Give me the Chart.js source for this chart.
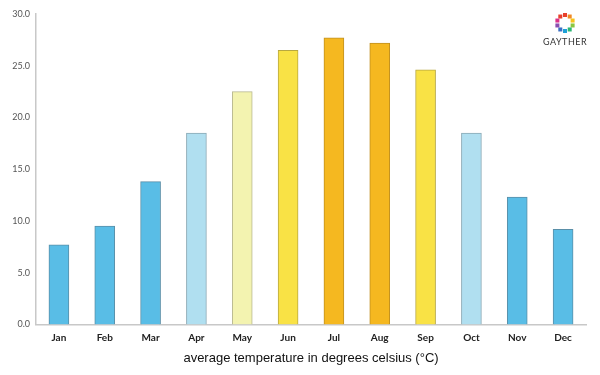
<!DOCTYPE html>
<html><head><meta charset="utf-8">
<script src="https://cdn.jsdelivr.net/npm/chart.js@4/dist/chart.umd.min.js"></script>
<style>
html,body{margin:0;padding:0;background:#fff;}
#wrap{position:relative;width:600px;height:375px;}
#logoText{position:absolute;left:543px;top:36px;font:9px "Lato",sans-serif;letter-spacing:0.5px;color:#333;}
</style></head>
<body>
<div id="wrap"><canvas id="c" width="600" height="375"></canvas><div id="logoText">GAYTHER</div></div>
<script>
const months = ["Jan","Feb","Mar","Apr","May","Jun","Jul","Aug","Sep","Oct","Nov","Dec"];
const temps = [7.7, 9.5, 13.8, 18.5, 22.5, 26.5, 27.7, 27.2, 24.6, 18.5, 12.3, 9.2];
const barColors = ["#59bde6","#59bde6","#59bde6","#b0dff0","#f3f3b0","#f9e245","#f5b820","#f5b820","#f9e245","#b0dff0","#59bde6","#59bde6"];
const borderColors = ["#5a8fa8","#5a8fa8","#5a8fa8","#8aa9b5","#b8b890","#b8a840","#c09020","#c09020","#b8a840","#8aa9b5","#5a8fa8","#5a8fa8"];
const axisTitle = "average temperature in degrees celsius (°C)";

const logoPlugin = {
  id:'logo',
  afterDraw(chart){
    const ctx = chart.ctx;
    const cx = 565, cy = 23, r = 8;
    const cols = ["#e8412c","#f08a24","#f6c21c","#8cc63f","#2bb673","#1ea0d6","#3a6fc4","#8a4fb0","#d9328a","#e8412c"];
    for(let i=0;i<10;i++){
      const a = i/10*Math.PI*2 - Math.PI/2;
      ctx.fillStyle = cols[i];
      const x = cx + r*Math.cos(a), y = cy + r*Math.sin(a);
      ctx.fillRect(x-2,y-2,4,4);
    }
  }
};

new Chart(document.getElementById('c'), {
  type:'bar',
  data:{labels:months, datasets:[{data:temps, backgroundColor:barColors, borderColor:borderColors, borderWidth:1, barThickness:20}]},
  options:{
    responsive:false, animation:false,
    layout:{padding:{top:14,right:14,left:0,bottom:9}},
    plugins:{legend:{display:false}, tooltip:{enabled:false}},
    scales:{
      x:{
        grid:{display:false, drawTicks:false},
        border:{color:'#c8c8c8', width:1.5},
        ticks:{color:'#222', font:{family:'Lato', size:10, weight:'bold'}, padding:7},
        title:{display:true, text:axisTitle, color:'#111', font:{family:'"Liberation Sans", Arial', size:13}, padding:{top:0,bottom:0}}
      },
      y:{
        min:0, max:30,
        grid:{display:false, drawTicks:false},
        border:{color:'#c8c8c8', width:1.5},
        ticks:{stepSize:5, color:'#555', font:{family:'Lato', size:9}, padding:6, callback:v=>v.toFixed(1)},
        afterFit(s){ s.width = 36; }
      }
    }
  },
  plugins:[logoPlugin]
});
</script>
</body></html>
